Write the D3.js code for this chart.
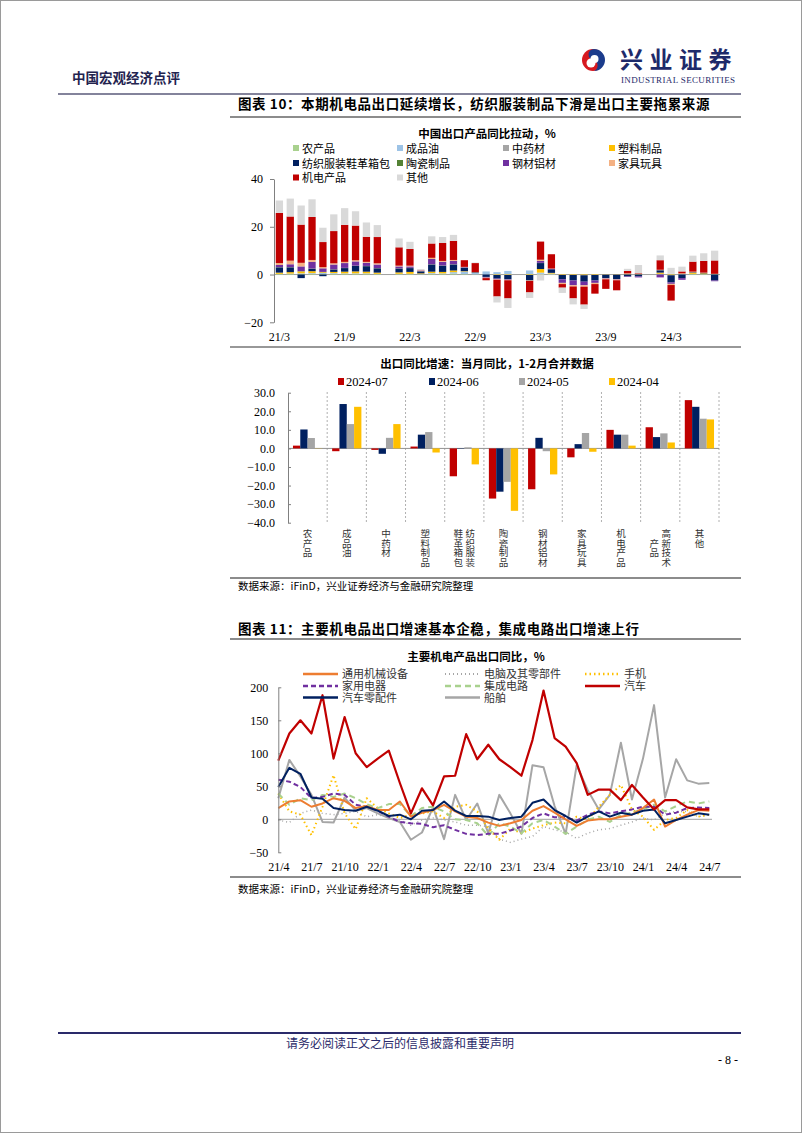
<!DOCTYPE html>
<html lang="zh">
<head>
<meta charset="UTF-8">
<title>出口产品同比拉动</title>
<style>
  body { margin: 0; background: #fff; }
  svg text { font-family: "Liberation Serif", "Noto Sans CJK SC", serif; fill: #000; }
  .cjk { font-family: "Noto Sans CJK SC", sans-serif; }
  .axis path, .axis line { stroke: #808080; }
  .axis text { font-size: 12px; font-family: "Liberation Serif", serif; }
</style>
</head>
<body>
<svg id="page" width="802" height="1133"></svg>
<script src="https://cdn.jsdelivr.net/npm/d3@7/dist/d3.min.js"></script>
<script>
// ---------- chart 10 (top): contribution to export growth, % ----------
var months1 = ['21/3','21/4','21/5','21/6','21/7','21/8','21/9','21/10','21/11','21/12',
  '22/1','22/2','22/3','22/4','22/5','22/6','22/7','22/8','22/9','22/10','22/11','22/12',
  '23/1','23/2','23/3','23/4','23/5','23/6','23/7','23/8','23/9','23/10','23/11','23/12',
  '24/1','24/2','24/3','24/4','24/5','24/6','24/7']
var tickMonths1 = ['21/3','21/9','22/3','22/9','23/3','23/9','24/3']
var series1 = ['农产品','成品油','中药材','塑料制品','纺织服装鞋革箱包','陶瓷制品','钢材铝材','家具玩具','机电产品','其他']
var agri      = [0.3,0.3,0.3,0.3,0.2,0.3,0.3,0.3,0.3,0.2,null,0.2,0.2,0.1,0.3,0.3,0.4,0.2,0.1,0,0,0,null,0.2,0.3,0.2,0,0,0,0,0,0,0.1,0.1,null,0.2,0.1,0.1,0.3,0.2,0.2]
var oil       = [0,0.1,0.2,0.3,0.5,0.3,0.2,0.2,0.2,0.1,null,0.1,0.1,0.1,0.3,0.2,0.6,1.0,0.6,1.3,1.0,1.5,null,1.5,0.5,0.2,0,0,0,0,0,0,0,0,null,0.1,0.2,0.1,0,0,0]
var herbs     = [0,0,0,0,0,0,0,0,0,0,null,0,0,0,0,0,0,0,0,0,0,0,null,0,0,0,0,0,0,0,0,0,0,0,null,0,0,0,0,0,0]
var plastic   = [0.5,0.6,0.8,0.8,0.3,0.5,0.7,0.8,0.7,0.5,null,0.6,0.8,0.3,0.6,0.6,0.7,0.2,0.1,0,-0.2,-0.2,null,-0.2,1.5,0.3,-0.2,-0.2,-0.3,-0.2,-0.1,-0.1,0.1,0.1,null,0.5,-0.3,0.1,0.5,0.3,0.1]
var textile   = [2.2,2.0,-1.5,1.0,-0.7,1.0,1.5,2.3,2.3,1.8,null,1.6,1.6,0.8,3.0,2.6,2.5,1.4,0.2,-1.0,-1.5,-1.8,null,-2.3,2.5,1.5,-1.8,-2.3,-2.7,-2.3,-1.4,-1.8,-0.8,-0.8,null,1.0,-3.0,-1.5,0.2,0.2,-2.5]
var ceramic   = [0.1,0.1,0.1,0.1,0.1,0.1,0.1,0.1,0.1,0.1,null,0.1,0.1,0.1,0.1,0.1,0.1,0.1,0,0,0,0,null,0,0.1,0,0,0,0,0,0,0,0,0,null,0,0,0,0,0,0]
var steel     = [0.9,1.2,2.0,2.8,1.5,2.0,2.0,1.8,1.3,1.5,null,0.8,0.6,0.2,2.2,1.5,1.4,0.2,0,-0.3,-0.3,-0.2,null,0,0.8,0.2,-1.5,-2.0,-1.5,-1.0,-0.2,-0.2,-0.2,-0.4,null,-1.2,-0.6,-0.7,0,0,-0.3]
var furniture = [0.8,1.5,1.5,0.8,0.5,0.5,0.5,0.5,0.4,0.5,null,0.3,0.3,0.1,0.5,0.4,0.4,0.1,0,-0.2,-0.2,-0.2,null,-0.2,0.5,0.1,-0.5,-0.5,-0.6,-0.5,-0.3,-0.3,0.3,0.2,null,0.2,-0.5,0.2,0.2,0.1,0]
var mech      = [21,18.5,16,18,10.5,13.5,15.5,14.5,10.5,11,null,7.7,7,0.1,6,7.5,8,2.8,3.8,-0.9,-7,-7.6,null,-4.8,7.6,6,-1.5,-5,-7.5,-4,-4,-4.2,1,0.2,null,4,-6.5,0.8,4.2,4.9,5.6]
var other     = [5.2,7.5,8,7.4,6,7,7,6,6,5,null,3.7,3,0.5,3,2.5,2.5,0,0.2,0,-2.5,-4,null,-2.3,-2.5,-0.1,-2.2,-2.5,-1.8,0,0,0,0.9,3.4,null,2,2.5,2,2.5,3.2,4.1]
var colors1 = ['#a9d18e','#9dc3e6','#a5a5a5','#ffc000','#002060','#548235','#7030a0','#f4b183','#c00000','#d9d9d9']

// ---------- chart 10 (bottom): export growth by product ----------
var cats2 = ['农产品','成品油','中药材','塑料制品','纺织服装鞋革箱包','陶瓷制品','钢材铝材','家具玩具','机电产品','高新技术产品','其他']
var catLines2 = [['农产品'],['成品油'],['中药材'],['塑料制品'],['纺织服装','鞋革箱包'],['陶瓷制品'],['钢材铝材'],['家具玩具'],['机电产品'],['高新技术','产品'],['其他']]
var periods2 = ['2024-07','2024-06','2024-05','2024-04']
var g2407 = [1.5,-1.5,-0.8,1.0,-15.0,-27.0,-22.0,-4.8,10.0,11.4,26.0]
var g2406 = [10.2,23.9,-2.9,7.4,-0.2,-23.3,5.7,2.3,7.4,6.1,22.4]
var g2405 = [5.6,13.1,5.7,8.8,0.6,-18.0,-1.5,8.3,7.4,8.1,16.0]
var g2404 = [0.1,22.4,13.1,-2.2,-8.6,-33.6,-14.0,-1.8,1.5,3.2,15.6]
var colors2 = ['#c00000','#002060','#a5a5a5','#ffc000']
var ticks2 = [30,20,10,0,-10,-20,-30,-40]

// ---------- chart 11: main mech/elec products, yoy % ----------
var months3 = ['21/4','21/5','21/6','21/7','21/8','21/9','21/10','21/11','21/12','22/1','22/2','22/3',
  '22/4','22/5','22/6','22/7','22/8','22/9','22/10','22/11','22/12','23/1','23/2','23/3',
  '23/4','23/5','23/6','23/7','23/8','23/9','23/10','23/11','23/12','24/1','24/2','24/3',
  '24/4','24/5','24/6','24/7']
var tickMonths3 = ['21/4','21/7','21/10','22/1','22/4','22/7','22/10','23/1','23/4','23/7','23/10','24/1','24/4','24/7']
var machinery = [17,27,29,19,24,32,28,17,20,14,14,27,4,10,14,22,12,4,2,-5,-10,-6,-1,13,20,10,0,-10,-2,0,0,4,7,17,30,-11,-1,7,14,13]
var computer  = [-1,-5,9,14,9,7,9,12,4,7,3,-1,-9,-1,2,-1,-4,-9,-9,-11,-30,-35,-30,-26,-11,-16,-19,-29,-21,-16,-14,-9,-4,2,-1,9,12,12,4,7]
var phone     = [39,12,7,-24,19,67,9,-15,32,17,9,2,7,9,12,2,19,22,12,-14,-31,-14,-21,-14,-9,-5,-6,4,-1,19,37,52,15,4,-16,-1,2,14,4,7]
var appliance = [60,57,49,32,34,39,37,22,19,13,4,-4,-6,-7,-12,-9,-16,-22,-24,-22,-22,-17,-11,2,9,3,3,-2,7,12,9,12,15,19,19,7,10,17,18,17]
var chips     = [39,22,32,29,37,34,39,32,23,17,23,23,5,17,19,12,0,-1,-6,-25,-6,-11,-21,-6,-1,-11,-22,-11,-1,4,-4,7,10,15,22,12,20,27,24,27]
var cars      = [89,130,150,130,188,92,155,100,79,92,104,55,9,47,21,65,66,129,91,113,91,79,66,120,195,123,110,85,37,45,45,29,52,33,15,29,29,18,15,15]
var carParts  = [49,78,69,33,31,17,14,13,19,13,5,7,0,13,14,27,13,5,5,4,-1,2,4,25,30,14,5,-5,4,12,4,10,7,13,15,-6,-1,4,9,7]
var ships     = [32,90,65,37,-4,-5,33,13,17,9,2,-4,-31,-20,18,-30,37,-1,24,-21,37,9,-22,82,79,20,-22,82,44,15,37,116,30,92,173,33,91,59,54,55]
var names3 = ['通用机械设备','电脑及其零部件','手机','家用电器','集成电路','汽车','汽车零配件','船舶']

var svg = d3.select('#page')

// page frame, header, footer
svg.append('rect').attr('x', 0.5).attr('y', 0.5).attr('width', 801).attr('height', 1132)
  .attr('fill', 'none').attr('stroke', '#9a9a9a')
svg.append('text').attr('class', 'cjk').attr('x', 72).attr('y', 83)
  .attr('font-size', 13.5).attr('font-weight', 'bold').style('fill', '#23234f').text('中国宏观经济点评')
// logo: red outer swirl with blue inner swirl
var logo = svg.append('g').attr('transform', 'translate(593,60)')
logo.append('circle').attr('r', 11).attr('fill', '#d7191f')
logo.append('path').attr('d', 'M1,-11 A11,11 0 0 1 1,11 A6,6 0 0 0 1,0 A5.5,5.5 0 0 1 1,-11Z').attr('fill', '#1b3c8c')
logo.append('circle').attr('cx', 1.5).attr('cy', -1).attr('r', 4).attr('fill', '#fff')
logo.append('circle').attr('cx', -2).attr('cy', 3).attr('r', 4.5).attr('fill', '#fff')
svg.append('text').attr('class', 'cjk').attr('x', 620).attr('y', 68)
  .attr('font-size', 23).attr('font-weight', 'bold').attr('letter-spacing', 6.5)
  .style('fill', '#1e2a6a').text('兴业证券')
svg.append('text').attr('x', 621).attr('y', 83).attr('font-size', 9)
  .attr('textLength', 114).style('fill', '#1e2a6a').text('INDUSTRIAL SECURITIES')
svg.append('line').attr('x1', 58).attr('x2', 741).attr('y1', 94).attr('y2', 94)
  .attr('stroke', '#5a5a7a').attr('stroke-width', 1.6)

svg.append('line').attr('x1', 58).attr('x2', 741).attr('y1', 1033).attr('y2', 1033)
  .attr('stroke', '#2a2a6a').attr('stroke-width', 2)
svg.append('text').attr('class', 'cjk').attr('x', 400).attr('y', 1048).attr('text-anchor', 'middle')
  .attr('font-size', 12).style('fill', '#2a2a6a').text('请务必阅读正文之后的信息披露和重要声明')
svg.append('text').attr('x', 738).attr('y', 1064).attr('text-anchor', 'end')
  .attr('font-size', 12).text('- 8 -')

// figure titles and separators
function figTitle (y, txt) {
  svg.append('text').attr('class', 'cjk').attr('x', 238).attr('y', y)
    .attr('font-size', 13.5).attr('font-weight', 'bold').attr('letter-spacing', 0.6).text(txt)
}
figTitle(109, '图表 10：本期机电品出口延续增长，纺织服装制品下滑是出口主要拖累来源')
figTitle(634, '图表 11：主要机电品出口增速基本企稳，集成电路出口增速上行')
function rule (y, color, w) {
  svg.append('line').attr('x1', 230).attr('x2', 741).attr('y1', y).attr('y2', y)
    .attr('stroke', color).attr('stroke-width', w)
}
rule(117, '#8c8c8c', 2)
rule(347, '#333', 1.2)
rule(578, '#8c8c8c', 2)
rule(639, '#8c8c8c', 2)
rule(877, '#8c8c8c', 2)
function source (y) {
  svg.append('text').attr('class', 'cjk').attr('x', 238).attr('y', y)
    .attr('font-size', 10.5).text('数据来源：iFinD，兴业证券经济与金融研究院整理')
}
source(590)
source(893)

function chartTitle (x, y, txt) {
  svg.append('text').attr('class', 'cjk').attr('x', x).attr('y', y).attr('text-anchor', 'middle')
    .attr('font-size', 11.5).attr('font-weight', 'bold').text(txt)
}

// ================= chart 1: stacked contributions =================
chartTitle(487, 138, '中国出口产品同比拉动，%')
var legX1 = [293, 397, 503, 609], legY1 = [148, 163, 177.5]
series1.forEach(function (name, i) {
  var lx = legX1[i % 4], ly = legY1[Math.floor(i / 4)]
  svg.append('rect').attr('x', lx).attr('y', ly - 3).attr('width', 6).attr('height', 6).attr('fill', colors1[i])
  svg.append('text').attr('class', 'cjk').attr('x', lx + 9).attr('y', ly + 4.5)
    .attr('font-size', 11).text(name)
})

var seriesData1 = [agri, oil, herbs, plastic, textile, ceramic, steel, furniture, mech, other]
var rows1 = months1.map(function (m, i) {
  var r = {month: m}
  series1.forEach(function (s, k) { r[s] = seriesData1[k][i] == null ? 0 : seriesData1[k][i] })
  return r
})
var x1 = d3.scaleBand().domain(months1).range([274, 720]).paddingInner(0.33).paddingOuter(0.16)
var y1 = d3.scaleLinear().domain([-20, 40]).range([322.3, 179])
var stacked1 = d3.stack().keys(series1).offset(d3.stackOffsetDiverging)(rows1)

svg.append('line').attr('x1', 274).attr('x2', 720).attr('y1', y1(0)).attr('y2', y1(0))
  .attr('stroke', '#a0a0a0')
svg.append('g').selectAll('g').data(stacked1).enter().append('g')
  .attr('fill', function (d, i) { return colors1[i] })
  .selectAll('rect').data(function (d) { return d }).enter().append('rect')
  .attr('x', function (d) { return x1(d.data.month) })
  .attr('width', x1.bandwidth())
  .attr('y', function (d) { return y1(Math.max(d[0], d[1])) })
  .attr('height', function (d) { return Math.abs(y1(d[0]) - y1(d[1])) })

svg.append('g').attr('class', 'axis').attr('transform', 'translate(274,0)')
  .call(d3.axisLeft(y1).tickValues([-20, 0, 20, 40]).tickSize(4).tickPadding(7).tickSizeOuter(0))
svg.append('g').attr('class', 'axis').attr('transform', 'translate(0,326)')
  .call(d3.axisBottom(x1).tickValues(tickMonths1).tickSize(0).tickPadding(6))
  .call(function (g) { g.select('.domain').remove() })

// ================= chart 2: grouped yoy bars =================
chartTitle(487, 368, '出口同比增速：当月同比，1-2月合并数据')
var legX2 = [338, 429, 519, 609]
periods2.forEach(function (p, i) {
  svg.append('rect').attr('x', legX2[i]).attr('y', 378).attr('width', 6).attr('height', 7).attr('fill', colors2[i])
  svg.append('text').attr('x', legX2[i] + 8).attr('y', 386).attr('font-size', 12.5).text(p)
})

var values2 = [g2407, g2406, g2405, g2404]
var x2 = d3.scaleBand().domain(cats2).range([288, 719])
var xs2 = d3.scaleBand().domain(periods2).range([0, x2.bandwidth()]).paddingOuter(0.68)
var y2 = d3.scaleLinear().domain([-40, 30]).range([522.7, 392.7])

// dotted category separators
svg.append('g').selectAll('line').data(cats2).enter().append('line')
  .attr('x1', function (d) { return x2(d) + x2.bandwidth() })
  .attr('x2', function (d) { return x2(d) + x2.bandwidth() })
  .attr('y1', 392).attr('y2', 524)
  .attr('stroke', '#b0b0b0').attr('stroke-dasharray', '2,2')
svg.append('line').attr('x1', 288).attr('x2', 719).attr('y1', y2(0)).attr('y2', y2(0))
  .attr('stroke', '#909090')

var bars2 = []
cats2.forEach(function (c, i) {
  periods2.forEach(function (p, k) { bars2.push({cat: c, per: p, k: k, v: values2[k][i]}) })
})
svg.append('g').selectAll('rect').data(bars2).enter().append('rect')
  .attr('x', function (d) { return x2(d.cat) + xs2(d.per) })
  .attr('width', xs2.bandwidth())
  .attr('y', function (d) { return y2(Math.max(0, d.v)) })
  .attr('height', function (d) { return Math.abs(y2(d.v) - y2(0)) })
  .attr('fill', function (d) { return colors2[d.k] })

svg.append('g').attr('class', 'axis').attr('transform', 'translate(288,0)')
  .call(d3.axisLeft(y2).tickValues(ticks2).tickFormat(d3.format('.1f')).tickSize(-3).tickPadding(13).tickSizeOuter(0))

// vertical category labels, one text per column, columns read right to left
var catLab = svg.append('g')
cats2.forEach(function (c, i) {
  var cols = catLines2[i]
  var maxLen = d3.max(cols, function (s) { return s.length })
  var cx = x2(c) + x2.bandwidth() / 2
  cols.forEach(function (s, j) {
    var colX = cx + (cols.length - 1) * 6 - j * 12
    var off = (maxLen - s.length) / 2
    catLab.append('text').attr('class', 'cjk')
      .attr('x', colX).attr('y', 529 + off * 9.5)
      .attr('font-size', 9.5)
      .style('writing-mode', 'vertical-rl')
      .style('fill', '#333')
      .text(s)
  })
})

// ================= chart 3: lines =================
chartTitle(476, 661, '主要机电产品出口同比，%')
var values3 = [machinery, computer, phone, appliance, chips, cars, carParts, ships]
var colors3 = ['#ed7d31', '#a5a5a5', '#ffc000', '#7030a0', '#a9d18e', '#c00000', '#002060', '#a6a6a6']
var dash3 = [null, '1,3', '1.5,3', '5,3', '6,4', null, null, null]
var width3 = [2, 1.5, 2, 2, 2, 2.2, 2, 2]
var legX3 = [303, 445, 585], legY3 = [674, 686, 697.5]

var x3 = d3.scalePoint().domain(months3).range([278.3, 709.3])
var y3 = d3.scaleLinear().domain([-50, 200]).range([852.3, 687.3])
svg.append('line').attr('x1', 278).attr('x2', 712).attr('y1', y3(0)).attr('y2', y3(0))
  .attr('stroke', '#a0a0a0')

var line3 = d3.line().x(function (d, i) { return x3(months3[i]) }).y(function (d) { return y3(d) })
// draw order so that the car line sits on top, ships underneath
var order3 = [7, 1, 2, 4, 3, 0, 6, 5]
order3.forEach(function (k) {
  svg.append('path').datum(values3[k]).attr('d', line3)
    .attr('fill', 'none').attr('stroke', colors3[k]).attr('stroke-width', width3[k])
    .attr('stroke-dasharray', dash3[k]).attr('stroke-linejoin', 'round')
})

names3.forEach(function (n, i) {
  var lx = legX3[i % 3], ly = legY3[Math.floor(i / 3)]
  svg.append('line').attr('x1', lx).attr('x2', lx + 35).attr('y1', ly).attr('y2', ly)
    .attr('stroke', colors3[i]).attr('stroke-width', width3[i] + 0.5).attr('stroke-dasharray', dash3[i])
  svg.append('text').attr('class', 'cjk').attr('x', lx + 39).attr('y', ly + 4)
    .attr('font-size', 11).style('fill', '#333').text(n)
})

svg.append('g').attr('class', 'axis').attr('transform', 'translate(278.3,0)')
  .call(d3.axisLeft(y3).tickValues([-50, 0, 50, 100, 150, 200]).tickSize(-3).tickPadding(10).tickSizeOuter(0))
svg.append('g').attr('class', 'axis').attr('transform', 'translate(0,856)')
  .call(d3.axisBottom(x3).tickValues(tickMonths3).tickSize(0).tickPadding(6))
  .call(function (g) { g.select('.domain').remove() })
</script>
</body>
</html>
